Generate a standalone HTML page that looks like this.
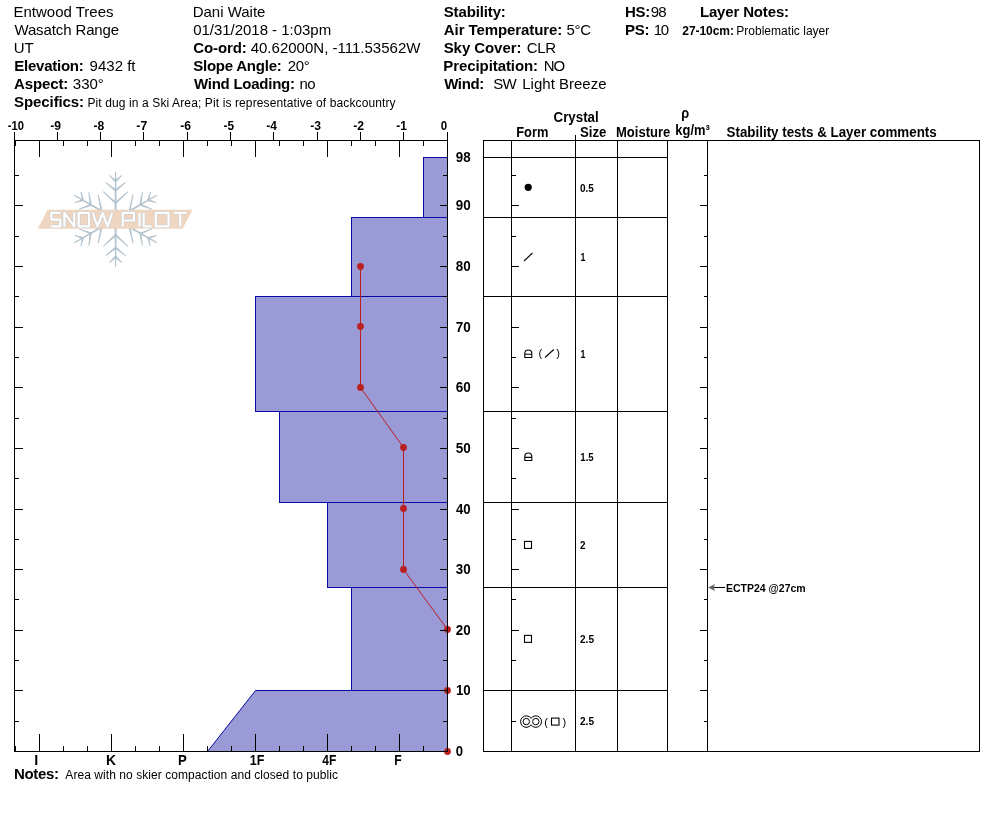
<!DOCTYPE html>
<html><head><meta charset="utf-8"><style>
html,body{margin:0;padding:0;background:#fff;}
svg{display:block;font-family:"Liberation Sans", sans-serif;will-change:transform;}
</style></head><body>
<svg width="994" height="840" viewBox="0 0 994 840">
<rect width="994" height="840" fill="#fff"/>
<text x="13.48" y="17" font-size="15" textLength="100.02" lengthAdjust="spacing" fill="#000">Entwood Trees</text>
<text x="14.39" y="35" font-size="15" textLength="104.75" lengthAdjust="spacing" fill="#000">Wasatch Range</text>
<text x="13.66" y="53" font-size="15" fill="#000">UT</text>
<text x="14.3" y="71" font-size="15" font-weight="bold" textLength="69.49" lengthAdjust="spacing" fill="#000">Elevation:</text>
<text x="89.61" y="71" font-size="15" fill="#000">9432 ft</text>
<text x="14.11" y="89" font-size="15" font-weight="bold" textLength="54.25" lengthAdjust="spacing" fill="#000">Aspect:</text>
<text x="72.81" y="89" font-size="15" fill="#000">330°</text>
<text x="14.12" y="107" font-size="15" font-weight="bold" textLength="69.96" lengthAdjust="spacing" fill="#000">Specifics:</text>
<text x="87.46" y="107" font-size="12" textLength="308.12" lengthAdjust="spacing" fill="#000">Pit dug in a Ski Area; Pit is representative of backcountry</text>
<text x="192.66" y="17" font-size="15" textLength="72.75" lengthAdjust="spacing" fill="#000">Dani Waite</text>
<text x="193.17" y="35" font-size="15" textLength="137.97" lengthAdjust="spacing" fill="#000">01/31/2018 - 1:03pm</text>
<text x="193.21" y="53" font-size="15" font-weight="bold" textLength="53.66" lengthAdjust="spacing" fill="#000">Co-ord:</text>
<text x="250.66" y="53" font-size="15" textLength="169.76" lengthAdjust="spacing" fill="#000">40.62000N, -111.53562W</text>
<text x="193.2" y="71" font-size="15" font-weight="bold" textLength="88.53" lengthAdjust="spacing" fill="#000">Slope Angle:</text>
<text x="287.85" y="71" font-size="15" textLength="21.84" lengthAdjust="spacing" fill="#000">20°</text>
<text x="193.94" y="89" font-size="15" font-weight="bold" textLength="101.06" lengthAdjust="spacing" fill="#000">Wind Loading:</text>
<text x="299.38" y="89" font-size="15" textLength="16.31" lengthAdjust="spacing" fill="#000">no</text>
<text x="443.68" y="17" font-size="15" font-weight="bold" textLength="62.17" lengthAdjust="spacing" fill="#000">Stability:</text>
<text x="443.82" y="35" font-size="15" font-weight="bold" textLength="118.42" lengthAdjust="spacing" fill="#000">Air Temperature:</text>
<text x="566.43" y="35" font-size="15" textLength="24.77" lengthAdjust="spacing" fill="#000">5°C</text>
<text x="443.68" y="53" font-size="15" font-weight="bold" textLength="77.74" lengthAdjust="spacing" fill="#000">Sky Cover:</text>
<text x="526.8" y="53" font-size="15" textLength="29.41" lengthAdjust="spacing" fill="#000">CLR</text>
<text x="443.35" y="71" font-size="15" font-weight="bold" textLength="94.71" lengthAdjust="spacing" fill="#000">Precipitation:</text>
<text x="543.84" y="71" font-size="15" textLength="21.22" lengthAdjust="spacing" fill="#000">NO</text>
<text x="444.14" y="89" font-size="15" font-weight="bold" textLength="40.17" lengthAdjust="spacing" fill="#000">Wind:</text>
<text x="493.3" y="89" font-size="15" textLength="23.37" lengthAdjust="spacing" fill="#000">SW</text>
<text x="522.26" y="89" font-size="15" textLength="84.27" lengthAdjust="spacing" fill="#000">Light Breeze</text>
<text x="624.9" y="17" font-size="15" font-weight="bold" textLength="25.4" lengthAdjust="spacing" fill="#000">HS:</text>
<text x="650.87" y="17" font-size="15" textLength="15.8" lengthAdjust="spacing" fill="#000">98</text>
<text x="624.9" y="35" font-size="15" font-weight="bold" textLength="24.61" lengthAdjust="spacing" fill="#000">PS:</text>
<text x="653.85" y="35" font-size="15" textLength="15.14" lengthAdjust="spacing" fill="#000">10</text>
<text x="699.9" y="17" font-size="15" font-weight="bold" textLength="89.16" lengthAdjust="spacing" fill="#000">Layer Notes:</text>
<text x="682.24" y="35" font-size="12" font-weight="bold" textLength="51.75" lengthAdjust="spacing" fill="#000">27-10cm:</text>
<text x="736.2" y="35" font-size="12" textLength="93.1" lengthAdjust="spacing" fill="#000">Problematic layer</text>
<text x="13.9" y="779" font-size="15" font-weight="bold" textLength="45.09" lengthAdjust="spacing" fill="#000">Notes:</text>
<text x="65.36" y="779" font-size="12" textLength="272.59" lengthAdjust="spacing" fill="#000">Area with no skier compaction and closed to public</text>
<text x="553.57" y="122" font-size="14" font-weight="bold" textLength="45.11" lengthAdjust="spacingAndGlyphs" fill="#000">Crystal</text>
<text x="516.24" y="137" font-size="14" font-weight="bold" textLength="32.19" lengthAdjust="spacingAndGlyphs" fill="#000">Form</text>
<text x="579.99" y="137" font-size="14" font-weight="bold" textLength="26.42" lengthAdjust="spacingAndGlyphs" fill="#000">Size</text>
<text x="616.03" y="137" font-size="14" font-weight="bold" textLength="54.32" lengthAdjust="spacingAndGlyphs" fill="#000">Moisture</text>
<text x="681.31" y="118" font-size="14" font-weight="bold" textLength="7.92" lengthAdjust="spacingAndGlyphs" fill="#000">ρ</text>
<text x="675.3" y="135" font-size="14" font-weight="bold" textLength="34.47" lengthAdjust="spacingAndGlyphs" fill="#000">kg/m³</text>
<text x="726.54" y="137" font-size="14" font-weight="bold" textLength="210.16" lengthAdjust="spacingAndGlyphs" fill="#000">Stability tests &amp; Layer comments</text>
<text x="725.97" y="591.6" font-size="10.4" font-weight="bold" textLength="79.7" lengthAdjust="spacingAndGlyphs" fill="#000">ECTP24 @27cm</text>
<text x="7.66" y="130" font-size="13" font-weight="bold" textLength="16.21" lengthAdjust="spacingAndGlyphs" fill="#000">-10</text>
<text x="50.33" y="130" font-size="13" font-weight="bold" textLength="10.77" lengthAdjust="spacingAndGlyphs" fill="#000">-9</text>
<text x="93.48" y="130" font-size="13" font-weight="bold" textLength="10.77" lengthAdjust="spacingAndGlyphs" fill="#000">-8</text>
<text x="136.32" y="130" font-size="13" font-weight="bold" textLength="10.87" lengthAdjust="spacingAndGlyphs" fill="#000">-7</text>
<text x="180.33" y="130" font-size="13" font-weight="bold" textLength="10.8" lengthAdjust="spacingAndGlyphs" fill="#000">-6</text>
<text x="223.53" y="130" font-size="13" font-weight="bold" textLength="10.51" lengthAdjust="spacingAndGlyphs" fill="#000">-5</text>
<text x="266.35" y="130" font-size="13" font-weight="bold" textLength="10.62" lengthAdjust="spacingAndGlyphs" fill="#000">-4</text>
<text x="310.33" y="130" font-size="13" font-weight="bold" textLength="10.79" lengthAdjust="spacingAndGlyphs" fill="#000">-3</text>
<text x="353.33" y="130" font-size="13" font-weight="bold" textLength="10.8" lengthAdjust="spacingAndGlyphs" fill="#000">-2</text>
<text x="396.31" y="130" font-size="13" font-weight="bold" textLength="10.64" lengthAdjust="spacingAndGlyphs" fill="#000">-1</text>
<text x="440.66" y="130" font-size="13" font-weight="bold" textLength="6.41" lengthAdjust="spacingAndGlyphs" fill="#000">0</text>
<text x="34.33" y="765" font-size="14" font-weight="bold" textLength="3.99" lengthAdjust="spacingAndGlyphs" fill="#000">I</text>
<text x="106.0" y="765" font-size="14" font-weight="bold" textLength="10.01" lengthAdjust="spacingAndGlyphs" fill="#000">K</text>
<text x="177.91" y="765" font-size="14" font-weight="bold" textLength="8.76" lengthAdjust="spacingAndGlyphs" fill="#000">P</text>
<text x="249.84" y="765" font-size="14" font-weight="bold" textLength="14.6" lengthAdjust="spacingAndGlyphs" fill="#000">1F</text>
<text x="322.3" y="765" font-size="14" font-weight="bold" textLength="14.04" lengthAdjust="spacingAndGlyphs" fill="#000">4F</text>
<text x="394.2" y="765" font-size="14" font-weight="bold" textLength="7.47" lengthAdjust="spacingAndGlyphs" fill="#000">F</text>
<text x="455.72" y="162" font-size="14" font-weight="bold" textLength="14.85" lengthAdjust="spacingAndGlyphs" fill="#000">98</text>
<text x="455.72" y="210" font-size="14" font-weight="bold" textLength="14.94" lengthAdjust="spacingAndGlyphs" fill="#000">90</text>
<text x="455.73" y="271" font-size="14" font-weight="bold" textLength="14.93" lengthAdjust="spacingAndGlyphs" fill="#000">80</text>
<text x="455.7" y="332" font-size="14" font-weight="bold" textLength="14.96" lengthAdjust="spacingAndGlyphs" fill="#000">70</text>
<text x="455.71" y="392" font-size="14" font-weight="bold" textLength="14.96" lengthAdjust="spacingAndGlyphs" fill="#000">60</text>
<text x="455.72" y="453" font-size="14" font-weight="bold" textLength="14.95" lengthAdjust="spacingAndGlyphs" fill="#000">50</text>
<text x="456.03" y="514" font-size="14" font-weight="bold" textLength="14.64" lengthAdjust="spacingAndGlyphs" fill="#000">40</text>
<text x="455.78" y="574" font-size="14" font-weight="bold" textLength="14.88" lengthAdjust="spacingAndGlyphs" fill="#000">30</text>
<text x="455.76" y="635" font-size="14" font-weight="bold" textLength="14.9" lengthAdjust="spacingAndGlyphs" fill="#000">20</text>
<text x="455.9" y="695" font-size="14" font-weight="bold" textLength="14.78" lengthAdjust="spacingAndGlyphs" fill="#000">10</text>
<text x="455.7" y="756" font-size="14" font-weight="bold" textLength="7.3" lengthAdjust="spacingAndGlyphs" fill="#000">0</text>
<text x="579.98" y="192" font-size="10" font-weight="bold" textLength="13.84" lengthAdjust="spacingAndGlyphs" fill="#000">0.5</text>
<text x="580.43" y="261" font-size="10" font-weight="bold" textLength="4.91" lengthAdjust="spacingAndGlyphs" fill="#000">1</text>
<text x="580.43" y="358" font-size="10" font-weight="bold" textLength="4.91" lengthAdjust="spacingAndGlyphs" fill="#000">1</text>
<text x="580.29" y="461" font-size="10" font-weight="bold" textLength="13.42" lengthAdjust="spacingAndGlyphs" fill="#000">1.5</text>
<text x="580.02" y="549" font-size="10" font-weight="bold" textLength="5.5" lengthAdjust="spacingAndGlyphs" fill="#000">2</text>
<text x="580.02" y="643" font-size="10" font-weight="bold" textLength="14.0" lengthAdjust="spacingAndGlyphs" fill="#000">2.5</text>
<text x="580.02" y="725" font-size="10" font-weight="bold" textLength="14.0" lengthAdjust="spacingAndGlyphs" fill="#000">2.5</text>
<rect x="423.5" y="157.5" width="24" height="60" fill="#9a9ad6" stroke="#0a0aa5" stroke-width="1"/>
<rect x="351.5" y="217.5" width="96" height="79" fill="#9a9ad6" stroke="#0a0aa5" stroke-width="1"/>
<rect x="255.5" y="296.5" width="192" height="115" fill="#9a9ad6" stroke="#0a0aa5" stroke-width="1"/>
<rect x="279.5" y="411.5" width="168" height="91" fill="#9a9ad6" stroke="#0a0aa5" stroke-width="1"/>
<rect x="327.5" y="502.5" width="120" height="85" fill="#9a9ad6" stroke="#0a0aa5" stroke-width="1"/>
<rect x="351.5" y="587.5" width="96" height="103" fill="#9a9ad6" stroke="#0a0aa5" stroke-width="1"/>
<polygon points="207.5,751.5 255.5,690.5 447.5,690.5 447.5,751.5" fill="#9a9ad6" stroke="#0a0aa5" stroke-width="1"/>
<polyline points="360.5,266.5 360.5,326.5 360.5,387.5 403.5,447.5 403.5,508.5 403.5,569.5 447.5,629.5 447.5,690.5 447.5,751.5" fill="none" stroke="#b92020" stroke-width="1"/>
<circle cx="360.5" cy="266.5" r="3.4" fill="#b92020"/>
<circle cx="360.5" cy="326.5" r="3.4" fill="#b92020"/>
<circle cx="360.5" cy="387.5" r="3.4" fill="#b92020"/>
<circle cx="403.5" cy="447.5" r="3.4" fill="#b92020"/>
<circle cx="403.5" cy="508.5" r="3.4" fill="#b92020"/>
<circle cx="403.5" cy="569.5" r="3.4" fill="#b92020"/>
<circle cx="447.5" cy="629.5" r="3.4" fill="#b92020"/>
<circle cx="447.5" cy="690.5" r="3.4" fill="#b92020"/>
<circle cx="447.5" cy="751.5" r="3.4" fill="#b92020"/>
<line x1="14.5" y1="140" x2="14.5" y2="752" stroke="#000" stroke-width="1"/>
<line x1="447.5" y1="140" x2="447.5" y2="752" stroke="#000" stroke-width="1"/>
<line x1="14" y1="140.5" x2="448" y2="140.5" stroke="#000" stroke-width="1"/>
<line x1="14" y1="751.5" x2="448" y2="751.5" stroke="#000" stroke-width="1"/>
<line x1="14.5" y1="132" x2="14.5" y2="140" stroke="#000" stroke-width="1"/>
<line x1="57.5" y1="132" x2="57.5" y2="140" stroke="#000" stroke-width="1"/>
<line x1="100.5" y1="132" x2="100.5" y2="140" stroke="#000" stroke-width="1"/>
<line x1="143.5" y1="132" x2="143.5" y2="140" stroke="#000" stroke-width="1"/>
<line x1="187.5" y1="132" x2="187.5" y2="140" stroke="#000" stroke-width="1"/>
<line x1="230.5" y1="132" x2="230.5" y2="140" stroke="#000" stroke-width="1"/>
<line x1="273.5" y1="132" x2="273.5" y2="140" stroke="#000" stroke-width="1"/>
<line x1="317.5" y1="132" x2="317.5" y2="140" stroke="#000" stroke-width="1"/>
<line x1="360.5" y1="132" x2="360.5" y2="140" stroke="#000" stroke-width="1"/>
<line x1="403.5" y1="132" x2="403.5" y2="140" stroke="#000" stroke-width="1"/>
<line x1="447.5" y1="132" x2="447.5" y2="140" stroke="#000" stroke-width="1"/>
<line x1="447.5" y1="141" x2="447.5" y2="146" stroke="#000" stroke-width="1"/>
<line x1="447.5" y1="751" x2="447.5" y2="746" stroke="#000" stroke-width="1"/>
<line x1="423.5" y1="141" x2="423.5" y2="146" stroke="#000" stroke-width="1"/>
<line x1="423.5" y1="751" x2="423.5" y2="746" stroke="#000" stroke-width="1"/>
<line x1="399.5" y1="141" x2="399.5" y2="157" stroke="#000" stroke-width="1"/>
<line x1="399.5" y1="751" x2="399.5" y2="734" stroke="#000" stroke-width="1"/>
<line x1="375.5" y1="141" x2="375.5" y2="146" stroke="#000" stroke-width="1"/>
<line x1="375.5" y1="751" x2="375.5" y2="746" stroke="#000" stroke-width="1"/>
<line x1="351.5" y1="141" x2="351.5" y2="146" stroke="#000" stroke-width="1"/>
<line x1="351.5" y1="751" x2="351.5" y2="746" stroke="#000" stroke-width="1"/>
<line x1="327.5" y1="141" x2="327.5" y2="157" stroke="#000" stroke-width="1"/>
<line x1="327.5" y1="751" x2="327.5" y2="734" stroke="#000" stroke-width="1"/>
<line x1="303.5" y1="141" x2="303.5" y2="146" stroke="#000" stroke-width="1"/>
<line x1="303.5" y1="751" x2="303.5" y2="746" stroke="#000" stroke-width="1"/>
<line x1="279.5" y1="141" x2="279.5" y2="146" stroke="#000" stroke-width="1"/>
<line x1="279.5" y1="751" x2="279.5" y2="746" stroke="#000" stroke-width="1"/>
<line x1="255.5" y1="141" x2="255.5" y2="157" stroke="#000" stroke-width="1"/>
<line x1="255.5" y1="751" x2="255.5" y2="734" stroke="#000" stroke-width="1"/>
<line x1="231.5" y1="141" x2="231.5" y2="146" stroke="#000" stroke-width="1"/>
<line x1="231.5" y1="751" x2="231.5" y2="746" stroke="#000" stroke-width="1"/>
<line x1="207.5" y1="141" x2="207.5" y2="146" stroke="#000" stroke-width="1"/>
<line x1="207.5" y1="751" x2="207.5" y2="746" stroke="#000" stroke-width="1"/>
<line x1="183.5" y1="141" x2="183.5" y2="157" stroke="#000" stroke-width="1"/>
<line x1="183.5" y1="751" x2="183.5" y2="734" stroke="#000" stroke-width="1"/>
<line x1="159.5" y1="141" x2="159.5" y2="146" stroke="#000" stroke-width="1"/>
<line x1="159.5" y1="751" x2="159.5" y2="746" stroke="#000" stroke-width="1"/>
<line x1="135.5" y1="141" x2="135.5" y2="146" stroke="#000" stroke-width="1"/>
<line x1="135.5" y1="751" x2="135.5" y2="746" stroke="#000" stroke-width="1"/>
<line x1="111.5" y1="141" x2="111.5" y2="157" stroke="#000" stroke-width="1"/>
<line x1="111.5" y1="751" x2="111.5" y2="734" stroke="#000" stroke-width="1"/>
<line x1="87.5" y1="141" x2="87.5" y2="146" stroke="#000" stroke-width="1"/>
<line x1="87.5" y1="751" x2="87.5" y2="746" stroke="#000" stroke-width="1"/>
<line x1="63.5" y1="141" x2="63.5" y2="146" stroke="#000" stroke-width="1"/>
<line x1="63.5" y1="751" x2="63.5" y2="746" stroke="#000" stroke-width="1"/>
<line x1="39.5" y1="141" x2="39.5" y2="157" stroke="#000" stroke-width="1"/>
<line x1="39.5" y1="751" x2="39.5" y2="734" stroke="#000" stroke-width="1"/>
<line x1="15.5" y1="141" x2="15.5" y2="146" stroke="#000" stroke-width="1"/>
<line x1="15.5" y1="751" x2="15.5" y2="746" stroke="#000" stroke-width="1"/>
<line x1="15" y1="721.5" x2="19" y2="721.5" stroke="#000" stroke-width="1"/>
<line x1="447" y1="721.5" x2="443" y2="721.5" stroke="#000" stroke-width="1"/>
<line x1="15" y1="690.5" x2="23" y2="690.5" stroke="#000" stroke-width="1"/>
<line x1="447" y1="690.5" x2="440" y2="690.5" stroke="#000" stroke-width="1"/>
<line x1="15" y1="660.5" x2="19" y2="660.5" stroke="#000" stroke-width="1"/>
<line x1="447" y1="660.5" x2="443" y2="660.5" stroke="#000" stroke-width="1"/>
<line x1="15" y1="630.5" x2="23" y2="630.5" stroke="#000" stroke-width="1"/>
<line x1="447" y1="630.5" x2="440" y2="630.5" stroke="#000" stroke-width="1"/>
<line x1="15" y1="599.5" x2="19" y2="599.5" stroke="#000" stroke-width="1"/>
<line x1="447" y1="599.5" x2="443" y2="599.5" stroke="#000" stroke-width="1"/>
<line x1="15" y1="569.5" x2="23" y2="569.5" stroke="#000" stroke-width="1"/>
<line x1="447" y1="569.5" x2="440" y2="569.5" stroke="#000" stroke-width="1"/>
<line x1="15" y1="539.5" x2="19" y2="539.5" stroke="#000" stroke-width="1"/>
<line x1="447" y1="539.5" x2="443" y2="539.5" stroke="#000" stroke-width="1"/>
<line x1="15" y1="509.5" x2="23" y2="509.5" stroke="#000" stroke-width="1"/>
<line x1="447" y1="509.5" x2="440" y2="509.5" stroke="#000" stroke-width="1"/>
<line x1="15" y1="478.5" x2="19" y2="478.5" stroke="#000" stroke-width="1"/>
<line x1="447" y1="478.5" x2="443" y2="478.5" stroke="#000" stroke-width="1"/>
<line x1="15" y1="448.5" x2="23" y2="448.5" stroke="#000" stroke-width="1"/>
<line x1="447" y1="448.5" x2="440" y2="448.5" stroke="#000" stroke-width="1"/>
<line x1="15" y1="418.5" x2="19" y2="418.5" stroke="#000" stroke-width="1"/>
<line x1="447" y1="418.5" x2="443" y2="418.5" stroke="#000" stroke-width="1"/>
<line x1="15" y1="387.5" x2="23" y2="387.5" stroke="#000" stroke-width="1"/>
<line x1="447" y1="387.5" x2="440" y2="387.5" stroke="#000" stroke-width="1"/>
<line x1="15" y1="357.5" x2="19" y2="357.5" stroke="#000" stroke-width="1"/>
<line x1="447" y1="357.5" x2="443" y2="357.5" stroke="#000" stroke-width="1"/>
<line x1="15" y1="327.5" x2="23" y2="327.5" stroke="#000" stroke-width="1"/>
<line x1="447" y1="327.5" x2="440" y2="327.5" stroke="#000" stroke-width="1"/>
<line x1="15" y1="296.5" x2="19" y2="296.5" stroke="#000" stroke-width="1"/>
<line x1="447" y1="296.5" x2="443" y2="296.5" stroke="#000" stroke-width="1"/>
<line x1="15" y1="266.5" x2="23" y2="266.5" stroke="#000" stroke-width="1"/>
<line x1="447" y1="266.5" x2="440" y2="266.5" stroke="#000" stroke-width="1"/>
<line x1="15" y1="236.5" x2="19" y2="236.5" stroke="#000" stroke-width="1"/>
<line x1="447" y1="236.5" x2="443" y2="236.5" stroke="#000" stroke-width="1"/>
<line x1="15" y1="205.5" x2="23" y2="205.5" stroke="#000" stroke-width="1"/>
<line x1="447" y1="205.5" x2="440" y2="205.5" stroke="#000" stroke-width="1"/>
<line x1="15" y1="175.5" x2="19" y2="175.5" stroke="#000" stroke-width="1"/>
<line x1="447" y1="175.5" x2="443" y2="175.5" stroke="#000" stroke-width="1"/>
<g transform="translate(115.6,219.05)" fill="#b3c3cd"><g transform="rotate(0)"><polygon points="1.15,0.00 0.55,-47.60 -0.55,-47.60 -1.15,0.00"/><polygon points="0.69,-38.47 -5.89,-43.98 -6.51,-43.32 -0.69,-37.03"/><polygon points="0.69,-37.03 6.51,-43.32 5.89,-43.98 -0.69,-38.47"/><polygon points="0.63,-29.43 -9.62,-37.00 -10.18,-36.30 -0.63,-27.87"/><polygon points="0.63,-27.87 10.18,-36.30 9.62,-37.00 -0.63,-29.43"/><polygon points="0.67,-16.79 -12.10,-27.68 -12.70,-27.02 -0.67,-15.31"/><polygon points="0.67,-15.31 12.70,-27.02 12.10,-27.68 -0.67,-16.79"/></g><g transform="rotate(60)"><polygon points="1.15,0.00 0.55,-47.60 -0.55,-47.60 -1.15,0.00"/><polygon points="0.69,-38.47 -5.89,-43.98 -6.51,-43.32 -0.69,-37.03"/><polygon points="0.69,-37.03 6.51,-43.32 5.89,-43.98 -0.69,-38.47"/><polygon points="0.63,-29.43 -9.62,-37.00 -10.18,-36.30 -0.63,-27.87"/><polygon points="0.63,-27.87 10.18,-36.30 9.62,-37.00 -0.63,-29.43"/><polygon points="0.67,-16.79 -12.10,-27.68 -12.70,-27.02 -0.67,-15.31"/><polygon points="0.67,-15.31 12.70,-27.02 12.10,-27.68 -0.67,-16.79"/></g><g transform="rotate(120)"><polygon points="1.15,0.00 0.55,-47.60 -0.55,-47.60 -1.15,0.00"/><polygon points="0.69,-38.47 -5.89,-43.98 -6.51,-43.32 -0.69,-37.03"/><polygon points="0.69,-37.03 6.51,-43.32 5.89,-43.98 -0.69,-38.47"/><polygon points="0.63,-29.43 -9.62,-37.00 -10.18,-36.30 -0.63,-27.87"/><polygon points="0.63,-27.87 10.18,-36.30 9.62,-37.00 -0.63,-29.43"/><polygon points="0.67,-16.79 -12.10,-27.68 -12.70,-27.02 -0.67,-15.31"/><polygon points="0.67,-15.31 12.70,-27.02 12.10,-27.68 -0.67,-16.79"/></g><g transform="rotate(180)"><polygon points="1.15,0.00 0.55,-47.60 -0.55,-47.60 -1.15,0.00"/><polygon points="0.69,-38.47 -5.89,-43.98 -6.51,-43.32 -0.69,-37.03"/><polygon points="0.69,-37.03 6.51,-43.32 5.89,-43.98 -0.69,-38.47"/><polygon points="0.63,-29.43 -9.62,-37.00 -10.18,-36.30 -0.63,-27.87"/><polygon points="0.63,-27.87 10.18,-36.30 9.62,-37.00 -0.63,-29.43"/><polygon points="0.67,-16.79 -12.10,-27.68 -12.70,-27.02 -0.67,-15.31"/><polygon points="0.67,-15.31 12.70,-27.02 12.10,-27.68 -0.67,-16.79"/></g><g transform="rotate(240)"><polygon points="1.15,0.00 0.55,-47.60 -0.55,-47.60 -1.15,0.00"/><polygon points="0.69,-38.47 -5.89,-43.98 -6.51,-43.32 -0.69,-37.03"/><polygon points="0.69,-37.03 6.51,-43.32 5.89,-43.98 -0.69,-38.47"/><polygon points="0.63,-29.43 -9.62,-37.00 -10.18,-36.30 -0.63,-27.87"/><polygon points="0.63,-27.87 10.18,-36.30 9.62,-37.00 -0.63,-29.43"/><polygon points="0.67,-16.79 -12.10,-27.68 -12.70,-27.02 -0.67,-15.31"/><polygon points="0.67,-15.31 12.70,-27.02 12.10,-27.68 -0.67,-16.79"/></g><g transform="rotate(300)"><polygon points="1.15,0.00 0.55,-47.60 -0.55,-47.60 -1.15,0.00"/><polygon points="0.69,-38.47 -5.89,-43.98 -6.51,-43.32 -0.69,-37.03"/><polygon points="0.69,-37.03 6.51,-43.32 5.89,-43.98 -0.69,-38.47"/><polygon points="0.63,-29.43 -9.62,-37.00 -10.18,-36.30 -0.63,-27.87"/><polygon points="0.63,-27.87 10.18,-36.30 9.62,-37.00 -0.63,-29.43"/><polygon points="0.67,-16.79 -12.10,-27.68 -12.70,-27.02 -0.67,-15.31"/><polygon points="0.67,-15.31 12.70,-27.02 12.10,-27.68 -0.67,-16.79"/></g></g>
<polygon points="47.5,209.8 192.5,209.8 182.5,228.8 37.8,228.8" fill="#efd6c1"/>
<path d="M60.3,212.8 H51.3 V219.6 H60.3 V226.4 H51.1 M64.4,226.4 V212.8 L74.2,226.4 V212.8 M78.7,212.8 H89.0 V226.4 H78.7 Z M92.8,212.8 L97.5,226.4 L102.5,212.8 L107.6,226.4 L112.1,212.8 M122.7,226.4 V212.8 H134.0 V220.5 H122.7 M139.5,212.8 V226.4 M143.7,212.8 V226.4 H151.6 M155.8,212.8 H168.5 V226.4 H155.8 Z M173.9,212.8 H186.6 M180.3,212.8 V226.4" fill="none" stroke="#c3ccd2" stroke-width="3.3" stroke-linejoin="round"/>
<path d="M60.3,212.8 H51.3 V219.6 H60.3 V226.4 H51.1 M64.4,226.4 V212.8 L74.2,226.4 V212.8 M78.7,212.8 H89.0 V226.4 H78.7 Z M92.8,212.8 L97.5,226.4 L102.5,212.8 L107.6,226.4 L112.1,212.8 M122.7,226.4 V212.8 H134.0 V220.5 H122.7 M139.5,212.8 V226.4 M143.7,212.8 V226.4 H151.6 M155.8,212.8 H168.5 V226.4 H155.8 Z M173.9,212.8 H186.6 M180.3,212.8 V226.4" fill="none" stroke="#ffffff" stroke-width="2.2" stroke-linejoin="round"/>
<rect x="483.5" y="140.5" width="496" height="611" fill="none" stroke="#000" stroke-width="1"/>
<line x1="511.5" y1="140" x2="511.5" y2="752" stroke="#000" stroke-width="1"/>
<line x1="575.5" y1="140" x2="575.5" y2="752" stroke="#000" stroke-width="1"/>
<line x1="617.5" y1="140" x2="617.5" y2="752" stroke="#000" stroke-width="1"/>
<line x1="667.5" y1="140" x2="667.5" y2="752" stroke="#000" stroke-width="1"/>
<line x1="707.5" y1="140" x2="707.5" y2="752" stroke="#000" stroke-width="1"/>
<line x1="575.5" y1="135" x2="575.5" y2="140" stroke="#000" stroke-width="1"/>
<line x1="483" y1="157.5" x2="668" y2="157.5" stroke="#000" stroke-width="1"/>
<line x1="483" y1="217.5" x2="668" y2="217.5" stroke="#000" stroke-width="1"/>
<line x1="483" y1="296.5" x2="668" y2="296.5" stroke="#000" stroke-width="1"/>
<line x1="483" y1="411.5" x2="668" y2="411.5" stroke="#000" stroke-width="1"/>
<line x1="483" y1="502.5" x2="668" y2="502.5" stroke="#000" stroke-width="1"/>
<line x1="483" y1="587.5" x2="668" y2="587.5" stroke="#000" stroke-width="1"/>
<line x1="483" y1="690.5" x2="668" y2="690.5" stroke="#000" stroke-width="1"/>
<line x1="512" y1="721.5" x2="516" y2="721.5" stroke="#000" stroke-width="1"/>
<line x1="707" y1="721.5" x2="704" y2="721.5" stroke="#000" stroke-width="1"/>
<line x1="512" y1="690.5" x2="519" y2="690.5" stroke="#000" stroke-width="1"/>
<line x1="707" y1="690.5" x2="700" y2="690.5" stroke="#000" stroke-width="1"/>
<line x1="512" y1="660.5" x2="516" y2="660.5" stroke="#000" stroke-width="1"/>
<line x1="707" y1="660.5" x2="704" y2="660.5" stroke="#000" stroke-width="1"/>
<line x1="512" y1="630.5" x2="519" y2="630.5" stroke="#000" stroke-width="1"/>
<line x1="707" y1="630.5" x2="700" y2="630.5" stroke="#000" stroke-width="1"/>
<line x1="512" y1="599.5" x2="516" y2="599.5" stroke="#000" stroke-width="1"/>
<line x1="707" y1="599.5" x2="704" y2="599.5" stroke="#000" stroke-width="1"/>
<line x1="512" y1="569.5" x2="519" y2="569.5" stroke="#000" stroke-width="1"/>
<line x1="707" y1="569.5" x2="700" y2="569.5" stroke="#000" stroke-width="1"/>
<line x1="512" y1="539.5" x2="516" y2="539.5" stroke="#000" stroke-width="1"/>
<line x1="707" y1="539.5" x2="704" y2="539.5" stroke="#000" stroke-width="1"/>
<line x1="512" y1="509.5" x2="519" y2="509.5" stroke="#000" stroke-width="1"/>
<line x1="707" y1="509.5" x2="700" y2="509.5" stroke="#000" stroke-width="1"/>
<line x1="512" y1="478.5" x2="516" y2="478.5" stroke="#000" stroke-width="1"/>
<line x1="707" y1="478.5" x2="704" y2="478.5" stroke="#000" stroke-width="1"/>
<line x1="512" y1="448.5" x2="519" y2="448.5" stroke="#000" stroke-width="1"/>
<line x1="707" y1="448.5" x2="700" y2="448.5" stroke="#000" stroke-width="1"/>
<line x1="512" y1="418.5" x2="516" y2="418.5" stroke="#000" stroke-width="1"/>
<line x1="707" y1="418.5" x2="704" y2="418.5" stroke="#000" stroke-width="1"/>
<line x1="512" y1="387.5" x2="519" y2="387.5" stroke="#000" stroke-width="1"/>
<line x1="707" y1="387.5" x2="700" y2="387.5" stroke="#000" stroke-width="1"/>
<line x1="512" y1="357.5" x2="516" y2="357.5" stroke="#000" stroke-width="1"/>
<line x1="707" y1="357.5" x2="704" y2="357.5" stroke="#000" stroke-width="1"/>
<line x1="512" y1="327.5" x2="519" y2="327.5" stroke="#000" stroke-width="1"/>
<line x1="707" y1="327.5" x2="700" y2="327.5" stroke="#000" stroke-width="1"/>
<line x1="512" y1="296.5" x2="516" y2="296.5" stroke="#000" stroke-width="1"/>
<line x1="707" y1="296.5" x2="704" y2="296.5" stroke="#000" stroke-width="1"/>
<line x1="512" y1="266.5" x2="519" y2="266.5" stroke="#000" stroke-width="1"/>
<line x1="707" y1="266.5" x2="700" y2="266.5" stroke="#000" stroke-width="1"/>
<line x1="512" y1="236.5" x2="516" y2="236.5" stroke="#000" stroke-width="1"/>
<line x1="707" y1="236.5" x2="704" y2="236.5" stroke="#000" stroke-width="1"/>
<line x1="512" y1="205.5" x2="519" y2="205.5" stroke="#000" stroke-width="1"/>
<line x1="707" y1="205.5" x2="700" y2="205.5" stroke="#000" stroke-width="1"/>
<line x1="512" y1="175.5" x2="516" y2="175.5" stroke="#000" stroke-width="1"/>
<line x1="707" y1="175.5" x2="704" y2="175.5" stroke="#000" stroke-width="1"/>
<circle cx="528.2" cy="187.3084" r="3.6" fill="#000"/>
<line x1="524" y1="261.01219999999995" x2="532.5" y2="253.01219999999995" stroke="#000" stroke-width="1.1"/>
<path d="M524.8,357.4914 V353.4914 A3.5,3.5 0 0 1 531.8,353.4914 V357.4914 Z M524.8,354.2914 H531.8" fill="none" stroke="#000" stroke-width="1.1"/>
<text x="538.5" y="357.1914" font-size="11" fill="#000">(</text>
<line x1="545" y1="357.4914" x2="553.8" y2="349.4914" stroke="#000" stroke-width="1.1"/>
<text x="556.2" y="357.1914" font-size="11" fill="#000">)</text>
<path d="M524.8,460.5318 V456.5318 A3.5,3.5 0 0 1 531.8,456.5318 V460.5318 Z M524.8,457.3318 H531.8" fill="none" stroke="#000" stroke-width="1.1"/>
<rect x="524.5" y="541.4192" width="7" height="7" fill="none" stroke="#000" stroke-width="1.1"/>
<rect x="524.5" y="635.3678" width="7" height="7" fill="none" stroke="#000" stroke-width="1.1"/>
<path d="M531.05,718.3539999999999 A5.75,5.75 0 1 0 531.05,724.834 A5.75,5.75 0 1 0 531.05,718.3539999999999 Z" fill="none" stroke="#000" stroke-width="1"/>
<circle cx="526.3" cy="721.5939999999999" r="3.2" fill="none" stroke="#000" stroke-width="1"/>
<circle cx="535.8" cy="721.5939999999999" r="3.2" fill="none" stroke="#000" stroke-width="1"/>
<text x="544.3" y="725.5939999999999" font-size="11" fill="#000">(</text>
<rect x="551.5" y="718.0939999999999" width="7.5" height="7" fill="none" stroke="#000" stroke-width="1.1"/>
<text x="562.6" y="725.5939999999999" font-size="11" fill="#000">)</text>
<line x1="709" y1="587.5" x2="725" y2="587.5" stroke="#000" stroke-width="1"/>
<polygon points="708,587.5 715,583.9 713.6,587.5 715,591.1" fill="#6a6a6a"/>
</svg>
</body></html>
